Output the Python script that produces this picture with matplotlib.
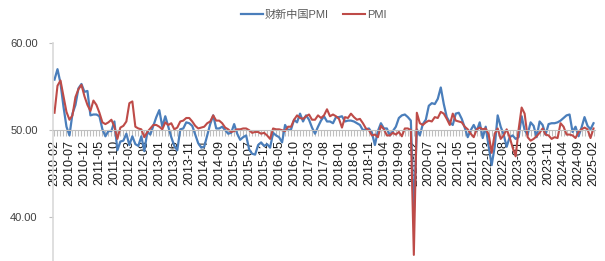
import numpy as np
import pandas as pd
import matplotlib
matplotlib.use('Agg')
import matplotlib.pyplot as plt
from matplotlib.ticker import FormatStrFormatter

plt.rcParams['font.family'] = ['Liberation Sans', 'Noto Sans CJK SC', 'DejaVu Sans']

# monthly categories 2010-02 .. 2025-02
months = pd.date_range('2010-02-01', '2025-02-01', freq='MS').strftime('%Y-%m').tolist()

# Caixin China manufacturing PMI
caixin_pmi = [
    55.8, 57.0, 55.4, 52.7, 50.4, 49.4, 51.9, 52.9, 54.8, 55.3, 54.4,
    54.5, 51.7, 51.8, 51.8, 51.6, 50.1, 49.3, 49.9, 49.9, 51.0, 47.7, 48.7,
    48.8, 49.6, 48.3, 49.3, 48.4, 48.2, 49.3, 47.6, 49.8, 49.5, 50.5, 51.5,
    52.3, 50.4, 51.6, 50.4, 49.2, 48.2, 47.7, 50.1, 50.2, 50.9, 50.8, 50.5,
    49.5, 48.5, 48.0, 48.1, 49.4, 50.7, 51.7, 50.2, 50.2, 50.4, 50.0, 49.6,
    49.7, 50.7, 49.6, 48.9, 49.2, 49.4, 47.8, 47.3, 47.2, 48.3, 48.6, 48.2,
    48.4, 48.0, 49.7, 49.4, 49.2, 48.6, 50.6, 50.0, 50.1, 51.2, 50.9, 51.9,
    51.0, 51.7, 51.2, 50.3, 49.6, 50.4, 51.1, 51.6, 51.0, 51.0, 50.8, 51.5,
    51.5, 51.6, 51.0, 51.1, 51.1, 51.0, 50.8, 50.6, 50.0, 50.1, 50.2, 49.7,
    48.3, 49.9, 50.8, 50.2, 50.2, 49.4, 49.9, 50.4, 51.4, 51.7, 51.8, 51.5,
    51.1, 40.3, 50.1, 49.4, 50.7, 51.2, 52.8, 53.1, 53.0, 53.6, 54.9, 53.0,
    51.5, 50.9, 50.6, 51.9, 52.0, 51.3, 50.3, 49.2, 50.0, 50.6, 49.9, 50.9,
    49.1, 50.4, 48.1, 46.0, 48.1, 51.7, 50.4, 49.5, 48.1, 49.2, 49.4, 49.0,
    49.2, 51.6, 50.0, 49.5, 50.9, 50.5, 49.2, 51.0, 50.6, 49.5, 50.7, 50.8,
    50.8, 50.9, 51.1, 51.4, 51.7, 51.8, 49.8, 50.4, 49.3, 50.3, 51.5, 50.5,
    50.1, 50.8,
]

# official (NBS) manufacturing PMI
nbs_pmi = [
    52.0, 55.1, 55.7, 53.9, 52.1, 51.2, 51.7, 53.8, 54.7, 55.2, 53.9,
    52.9, 52.2, 53.4, 52.9, 52.0, 50.9, 50.7, 50.9, 51.2, 50.4, 49.0, 50.3,
    50.5, 51.0, 53.1, 53.3, 50.4, 50.2, 50.1, 49.2, 49.8, 50.2, 50.6, 50.6,
    50.4, 50.1, 50.9, 50.6, 50.8, 50.1, 50.3, 51.0, 51.1, 51.4, 51.4, 51.0,
    50.5, 50.2, 50.3, 50.4, 50.8, 51.0, 51.7, 51.1, 51.1, 50.8, 50.3, 50.1,
    49.8, 49.9, 50.1, 50.1, 50.2, 50.2, 50.0, 49.7, 49.8, 49.8, 49.6, 49.7,
    49.4, 49.0, 50.2, 50.1, 50.1, 50.0, 49.9, 50.4, 50.4, 51.2, 51.7, 51.4,
    51.3, 51.6, 51.8, 51.2, 51.2, 51.7, 51.4, 51.7, 52.4, 51.6, 51.8, 51.6,
    51.3, 50.3, 51.5, 51.4, 51.9, 51.5, 51.2, 51.3, 50.8, 50.2, 50.0, 49.4,
    49.5, 49.2, 50.5, 50.1, 49.4, 49.4, 49.7, 49.5, 49.8, 49.3, 50.2, 50.2,
    50.0, 35.7, 52.0, 50.8, 50.6, 50.9, 51.1, 51.0, 51.5, 51.4, 52.1, 51.9,
    51.3, 50.6, 51.9, 51.1, 51.0, 50.9, 50.4, 50.1, 49.6, 49.2, 50.1, 50.3,
    50.1, 50.2, 49.5, 47.4, 49.6, 50.2, 49.0, 49.4, 50.1, 49.2, 48.0, 47.0,
    50.1, 52.6, 51.9, 49.2, 48.8, 49.0, 49.3, 49.7, 50.2, 49.5, 49.4, 49.0,
    49.2, 49.1, 50.8, 50.4, 49.5, 49.5, 49.4, 49.1, 49.8, 50.1, 50.3, 50.1,
    49.1, 50.2,
]

x = np.arange(len(months))

fig = plt.figure(figsize=(6.05, 2.61), dpi=100)
ax = fig.add_axes([53 / 605, 0.0, 542 / 605, 218 / 261])

ax.plot(x, caixin_pmi, color='#4A7EBB', lw=1.6, label='财新中国PMI')
ax.plot(x, nbs_pmi, color='#BE4B48', lw=1.5, label='PMI')

ax.set_xlim(-0.5, len(months) - 0.5)
ax.set_ylim(35, 60)
ax.set_yticks([40, 50, 60])
ax.yaxis.set_major_formatter(FormatStrFormatter('%.2f'))

# category axis crosses at 50, tick mark every month, label every 5th month
ax.spines['bottom'].set_position(('data', 50))
ax.spines['bottom'].set_color('#BFBFBF')
ax.spines['left'].set_color('#D9D9D9')
ax.spines['left'].set_linewidth(1.2)
ax.spines['top'].set_visible(False)
ax.spines['right'].set_visible(False)
ax.set_xticks(x)
ax.set_xticklabels([m if i % 5 == 0 else '' for i, m in enumerate(months)],
                   rotation=90, fontsize=9, color='#1a1a1a')
ax.tick_params(axis='x', length=4, width=0.8, color='#BFBFBF', pad=3)
ax.tick_params(axis='y', length=3, color='#BFBFBF', labelsize=8, labelcolor='#404040', pad=8)

fig.legend(loc='upper center', bbox_to_anchor=(0.518, 1.0), ncol=2, frameon=False,
           labelcolor='#595959', handlelength=2.0, handletextpad=0.15,
           columnspacing=1.3,
           prop={'family': ['Liberation Sans', 'Noto Sans CJK SC'], 'size': 8})

fig.savefig('out.png', dpi=100)
